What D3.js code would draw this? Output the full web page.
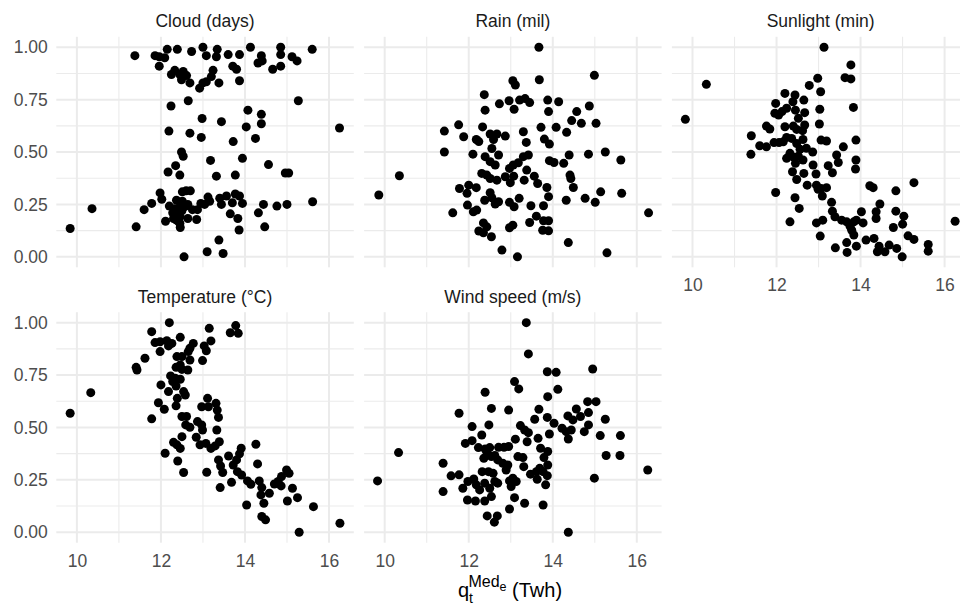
<!DOCTYPE html>
<html>
<head>
<meta charset="utf-8">
<script src="https://cdn.jsdelivr.net/npm/d3@7"></script>
<style>
  body { margin: 0; background: #fff; }
  svg { font-family: "Liberation Sans", Arial, sans-serif; }
</style>
</head>
<body>
<svg width="960" height="607"></svg>
<script>
// facet titles
var panelNames = ["Cloud (days)", "Rain (mil)", "Sunlight (min)", "Temperature (°C)", "Wind speed (m/s)"];

// [q, scaled value]
var cloudPts = [[11.38,0.96],[11.86,0.96],[11.96,0.955],[12.09,0.95],[11.96,0.91],[12.15,0.99],[12.39,0.99],[12.73,0.98],[13.0,1.0],[13.08,0.96],[13.34,0.99],[13.32,0.955],[13.6,0.965],[13.87,0.965],[13.71,0.91],[13.8,0.895],[14.13,1.0],[14.39,0.96],[14.31,0.925],[14.41,0.935],[14.66,0.895],[14.85,1.0],[14.85,0.965],[14.85,0.91],[15.12,0.955],[15.24,0.935],[15.6,0.99],
  [12.25,0.87],[12.33,0.89],[12.45,0.87],[12.53,0.885],[12.61,0.865],[12.49,0.845],[12.69,0.83],[12.92,0.805],[13.0,0.83],[13.08,0.835],[13.2,0.86],[13.24,0.89],[13.38,0.83],[13.87,0.84],
  [12.24,0.72],[12.65,0.745],[15.27,0.745],[12.98,0.66],[13.44,0.645],[14.07,0.70],[14.39,0.68],[14.39,0.635],[14.03,0.62],[16.25,0.615],[12.19,0.60],[12.69,0.59],[12.96,0.57],[14.25,0.565],[13.72,0.55],[12.49,0.50],[12.53,0.48],[13.94,0.47],[13.18,0.46],[14.56,0.44],[12.35,0.435],[12.17,0.405],[12.45,0.39],[13.32,0.385],[13.77,0.39],[14.96,0.40],[15.04,0.40],
  [11.98,0.305],[12.02,0.275],[11.78,0.255],[11.6,0.225],[10.36,0.23],[9.84,0.135],[11.41,0.143],[12.2,0.242],[12.11,0.17],[12.37,0.27],[12.41,0.215],[12.45,0.19],[12.3,0.183],[12.37,0.175],[12.45,0.16],[12.46,0.14],[12.51,0.31],[12.6,0.315],[12.7,0.315],[12.51,0.265],[12.64,0.25],[12.75,0.225],[12.87,0.225],[12.64,0.183],[12.85,0.178],[12.95,0.255],[13.04,0.25],[13.12,0.285],[13.16,0.265],[13.4,0.28],[13.44,0.25],[13.56,0.29],[13.7,0.258],[13.65,0.205],[13.77,0.30],[13.87,0.29],[13.94,0.255],[13.83,0.183],[13.86,0.128],[14.32,0.21],[14.44,0.25],[14.76,0.242],[15.0,0.25],[15.61,0.263],[14.47,0.143],[13.38,0.08],[13.1,0.024],[13.48,0.016],[12.55,0.0],
  [12.28,0.21],[12.33,0.23],[12.4,0.2],[12.5,0.22],[12.47,0.25],[12.57,0.24],[12.42,0.17]];

var rainPts = [[13.67,1.0],[14.99,0.866],[13.05,0.84],[13.11,0.82],[13.68,0.845],[12.37,0.774],[12.73,0.73],[12.96,0.745],[13.08,0.704],[13.21,0.748],[13.34,0.755],[13.45,0.736],[13.88,0.748],[13.9,0.693],[14.14,0.74],[12.39,0.70],[14.57,0.693],[14.87,0.72],[14.45,0.65],[14.68,0.637],[15.03,0.637],
  [11.42,0.60],[11.76,0.63],[11.88,0.573],[12.33,0.62],[12.18,0.56],[12.24,0.55],[12.51,0.586],[12.67,0.586],[12.59,0.56],[12.87,0.576],[13.3,0.597],[13.72,0.618],[14.08,0.618],[14.33,0.594],[13.37,0.546],[13.8,0.562],[13.92,0.538],
  [11.42,0.50],[12.1,0.49],[12.55,0.517],[12.71,0.486],[12.39,0.478],[12.51,0.454],[12.63,0.438],[12.31,0.398],[12.43,0.39],[12.51,0.374],[12.67,0.366],[12.87,0.382],[12.97,0.422],[13.06,0.438],[13.18,0.449],[13.3,0.478],[13.42,0.486],[13.38,0.414],[12.99,0.354],[13.07,0.385],[13.32,0.366],[13.56,0.385],[13.64,0.35],[13.92,0.459],[14.03,0.45],[14.26,0.446],[14.39,0.486],[14.85,0.49],[15.25,0.50],[15.62,0.462],[14.41,0.39],[14.43,0.374],[14.49,0.331],[15.14,0.31],[15.64,0.303],[14.77,0.279],[15.01,0.26],[14.32,0.27],[13.9,0.287],[13.86,0.331],
  [11.78,0.326],[12.0,0.342],[11.96,0.303],[12.18,0.33],[12.38,0.27],[12.51,0.306],[12.55,0.282],[12.63,0.252],[12.71,0.263],[11.97,0.247],[12.11,0.215],[12.19,0.223],[11.62,0.21],[12.97,0.26],[13.08,0.239],[13.2,0.279],[13.48,0.244],[13.78,0.244],[13.61,0.194],[13.45,0.164],[13.78,0.172],[13.9,0.172],[13.76,0.127],[13.9,0.124],[12.97,0.139],[13.05,0.151],[12.35,0.162],[12.43,0.143],[12.24,0.123],[12.35,0.115],[12.54,0.096],[12.79,0.032],[13.16,0.0],[14.37,0.068],[15.29,0.019],[16.28,0.21],[9.86,0.295],[10.35,0.387]];

var sunPts = [[13.13,1.0],[13.77,0.916],[13.63,0.855],[13.77,0.849],[12.98,0.852],[10.33,0.823],[12.78,0.818],[13.05,0.788],[12.2,0.78],[12.44,0.772],[12.65,0.748],[12.39,0.74],[11.98,0.732],[11.96,0.685],[12.13,0.693],[12.05,0.677],[12.24,0.709],[12.45,0.70],[12.67,0.688],[12.52,0.661],[13.03,0.704],[13.83,0.713],[9.83,0.656],[13.02,0.634],
  [11.76,0.624],[11.84,0.61],[12.2,0.621],[12.4,0.624],[12.48,0.608],[12.67,0.629],[12.62,0.602],[11.4,0.578],[11.6,0.53],[11.76,0.525],[11.94,0.545],[12.06,0.545],[12.16,0.549],[12.24,0.57],[12.36,0.565],[12.48,0.541],[12.63,0.56],[12.56,0.513],[12.71,0.518],[12.86,0.50],[12.32,0.494],[12.24,0.47],[12.41,0.475],[12.52,0.48],[12.63,0.462],[12.45,0.446],[11.39,0.489],
  [13.06,0.557],[13.19,0.553],[13.59,0.525],[13.89,0.557],[13.89,0.462],[13.88,0.419],[13.43,0.486],[13.47,0.45],[13.23,0.435],[13.33,0.401],[12.87,0.438],[12.94,0.395],[12.38,0.406],[12.65,0.398],[12.48,0.369],[12.73,0.342],[12.95,0.342],[12.99,0.322],[13.06,0.326],[13.19,0.33],[13.09,0.29],[11.98,0.307],[12.44,0.282],[12.54,0.231],[12.32,0.167],[12.95,0.162],[13.1,0.175],[13.04,0.099],
  [13.31,0.26],[13.33,0.218],[13.39,0.191],[13.55,0.175],[13.67,0.167],[13.75,0.146],[13.84,0.167],[13.9,0.175],[13.79,0.127],[13.84,0.104],[14.06,0.162],[14.02,0.215],[14.22,0.339],[14.3,0.33],[14.46,0.252],[14.37,0.215],[14.37,0.183],[14.84,0.315],[15.27,0.354],[14.84,0.218],[15.03,0.194],[15.0,0.156],[14.78,0.14],[15.13,0.10],[15.27,0.083],[14.13,0.08],[14.32,0.088],[14.44,0.051],[14.4,0.024],[14.58,0.024],[14.68,0.056],[14.86,0.04],[14.99,0.0],[13.9,0.051],[13.67,0.068],[13.68,0.021],[13.4,0.043],[15.61,0.059],[15.61,0.027],[16.25,0.17]];

var tempPts = [[12.2,1.0],[11.78,0.957],[13.78,0.986],[13.65,0.952],[13.84,0.949],[13.15,0.973],[12.46,0.93],[13.19,0.913],[11.86,0.905],[11.98,0.909],[12.14,0.914],[12.26,0.901],[12.18,0.889],[11.98,0.862],[12.77,0.901],[12.69,0.878],[12.65,0.862],[13.03,0.889],[13.08,0.866],[12.99,0.819],[11.62,0.83],[12.38,0.838],[12.5,0.838],[12.69,0.822],
  [11.41,0.787],[11.43,0.774],[12.36,0.787],[12.46,0.798],[12.5,0.777],[12.64,0.774],[12.23,0.746],[12.34,0.735],[12.46,0.73],[12.28,0.719],[12.36,0.698],[12.0,0.703],[12.18,0.671],[12.54,0.671],[12.39,0.639],[12.58,0.655],[10.33,0.666],[9.84,0.568],[11.94,0.618],[12.08,0.587],[11.78,0.541],[12.36,0.603],
  [12.97,0.599],[13.11,0.639],[13.13,0.599],[13.31,0.615],[13.34,0.583],[13.37,0.548],[12.5,0.552],[12.61,0.552],[12.59,0.512],[12.69,0.501],[12.87,0.528],[12.97,0.512],[12.99,0.488],[12.84,0.453],[13.33,0.488],[12.5,0.456],[12.3,0.429],[12.38,0.417],[12.46,0.40],[12.93,0.417],[13.07,0.424],[13.19,0.40],[13.29,0.412],[13.39,0.432],[12.1,0.377],[12.4,0.34],[12.54,0.285],[13.09,0.286],
  [13.37,0.345],[13.42,0.316],[13.61,0.364],[13.47,0.285],[13.41,0.213],[13.68,0.238],[13.72,0.321],[13.8,0.345],[13.87,0.374],[13.91,0.401],[13.82,0.289],[13.92,0.273],[14.06,0.245],[14.14,0.229],[14.26,0.42],[14.3,0.326],[14.34,0.245],[14.4,0.213],[14.38,0.178],[14.45,0.138],[14.58,0.186],[14.04,0.13],[14.4,0.075],[14.49,0.059],[14.7,0.23],[14.79,0.242],[14.87,0.266],[14.86,0.221],[14.99,0.297],[15.05,0.281],[15.01,0.149],[15.13,0.21],[15.25,0.165],[15.29,0.0],[15.63,0.122],[16.26,0.043]];

var windPts = [[13.37,1.0],[13.42,0.851],[13.87,0.766],[14.08,0.763],[14.95,0.779],[13.09,0.719],[13.19,0.684],[14.12,0.682],[13.88,0.647],[12.39,0.668],[14.83,0.623],[15.03,0.623],[11.77,0.568],[12.54,0.591],[12.95,0.583],[13.67,0.587],[13.57,0.539],[13.87,0.548],[14.03,0.52],[14.56,0.588],[14.36,0.555],[14.48,0.536],[14.66,0.552],[14.85,0.571],[14.85,0.512],[14.75,0.48],[15.25,0.539],[14.22,0.496],[14.32,0.48],[14.44,0.488],[14.37,0.445],[15.13,0.461],[15.61,0.461],
  [12.08,0.504],[12.48,0.512],[12.31,0.464],[12.08,0.437],[11.92,0.424],[13.23,0.509],[13.33,0.488],[13.42,0.475],[13.11,0.444],[13.39,0.432],[13.65,0.448],[13.92,0.469],[12.71,0.405],[12.84,0.405],[12.95,0.409],[12.23,0.404],[12.39,0.397],[12.5,0.404],[12.44,0.377],[12.36,0.353],[12.54,0.361],[12.62,0.366],[12.69,0.345],[12.81,0.329],[12.93,0.321],[12.89,0.297],[13.17,0.361],[13.29,0.356],[13.31,0.313],[13.71,0.401],[13.88,0.385],[13.79,0.356],[13.88,0.321],[13.69,0.305],[13.61,0.289],[13.77,0.289],[13.87,0.27],[13.63,0.253],[13.47,0.277],[13.83,0.226],[15.27,0.366],[15.6,0.366],[16.26,0.297],[14.99,0.258],
  [11.39,0.329],[11.58,0.269],[11.77,0.274],[11.39,0.194],[11.86,0.21],[11.98,0.242],[12.12,0.254],[12.18,0.226],[12.26,0.202],[12.38,0.234],[12.32,0.289],[12.47,0.289],[12.58,0.281],[12.62,0.242],[12.69,0.234],[12.5,0.21],[12.54,0.17],[11.97,0.154],[12.16,0.149],[12.38,0.149],[12.97,0.245],[13.05,0.258],[13.01,0.218],[13.13,0.242],[13.09,0.165],[13.33,0.138],[13.77,0.13],[12.97,0.111],[12.44,0.078],[12.68,0.078],[12.61,0.048],[14.37,0.0],[9.83,0.245],[10.33,0.38]];

var xTicks = [10, 12, 14, 16];
var xMinor = [11, 13, 15];
var yTicks = [0, 0.25, 0.5, 0.75, 1];
var yMinor = [0.125, 0.375, 0.625, 0.875];

var allPts = [cloudPts, rainPts, sunPts, tempPts, windPts];

var svg = d3.select("svg");
svg.append("rect").attr("width", 960).attr("height", 607).attr("fill", "#fff");

// panel geometry
var colLeft = [56.3, 364.1, 671.9],
    rowTop = [36.8, 312.2],
    panelW = 297.5,
    panelH = 230.5;

var x = d3.scaleLinear().domain([9.51, 16.59]).range([0, panelW]);
var y = d3.scaleLinear().domain([-0.05, 1.05]).range([panelH, 0]);

panelNames.forEach(function(name, i) {
  var col = i % 3, row = Math.floor(i / 3);
  var g = svg.append("g")
      .attr("transform", "translate(" + colLeft[col] + "," + rowTop[row] + ")");

  // grid
  g.selectAll(".vminor").data(xMinor).enter().append("line")
      .attr("x1", x).attr("x2", x).attr("y1", 0).attr("y2", panelH)
      .style("stroke", "#EBEBEB").style("stroke-width", 1.1);
  g.selectAll(".hminor").data(yMinor).enter().append("line")
      .attr("y1", y).attr("y2", y).attr("x1", 0).attr("x2", panelW)
      .style("stroke", "#EBEBEB").style("stroke-width", 1.1);
  g.selectAll(".vmajor").data(xTicks).enter().append("line")
      .attr("x1", x).attr("x2", x).attr("y1", 0).attr("y2", panelH)
      .style("stroke", "#EBEBEB").style("stroke-width", 2);
  g.selectAll(".hmajor").data(yTicks).enter().append("line")
      .attr("y1", y).attr("y2", y).attr("x1", 0).attr("x2", panelW)
      .style("stroke", "#EBEBEB").style("stroke-width", 2);

  // strip title
  g.append("text")
      .attr("x", panelW / 2).attr("y", -9.5)
      .attr("text-anchor", "middle")
      .style("font-size", "17.5px").style("fill", "#1A1A1A")
      .text(name);

  // points
  g.append("g").selectAll("circle")
      .data(allPts[i])
      .enter()
      .append("circle")
      .attr("cx", function(d) { return x(d[0]); })
      .attr("cy", function(d) { return y(d[1]); })
      .attr("r", 4.5)
      .style("fill", "#000");

  // y axis only on first column
  if (col === 0) {
    var ya = g.append("g")
        .call(d3.axisLeft(y).tickValues(yTicks).tickSize(0).tickPadding(8.5).tickFormat(d3.format(".2f")));
    ya.select(".domain").remove();
    ya.selectAll("text").style("font-size", "17.5px").style("fill", "#4D4D4D")
        .style("font-family", "Liberation Sans, Arial, sans-serif");
  }
  // x axis on bottom row and on panel with nothing below
  if (row === 1 || col === 2) {
    var xa = g.append("g")
        .attr("transform", "translate(0," + panelH + ")")
        .call(d3.axisBottom(x).tickValues(xTicks).tickSize(0).tickPadding(11.5));
    xa.select(".domain").remove();
    xa.selectAll("text").style("font-size", "17.5px").style("fill", "#4D4D4D")
        .style("font-family", "Liberation Sans, Arial, sans-serif");
  }
});

// x axis title: q_t^{Med_e} (Twh)
var title = svg.append("text")
    .attr("x", 510).attr("y", 597)
    .attr("text-anchor", "middle")
    .style("font-size", "20px").style("fill", "#000");
title.append("tspan").text("q");
title.append("tspan").attr("dy", 6).style("font-size", "14px").text("t");
title.append("tspan").attr("dx", -4.5).attr("dy", -16).style("font-size", "16px").text("Med");
title.append("tspan").attr("dy", 4).style("font-size", "12.5px").text("e");
title.append("tspan").attr("dy", 6).text(" (Twh)");
</script>
</body>
</html>
